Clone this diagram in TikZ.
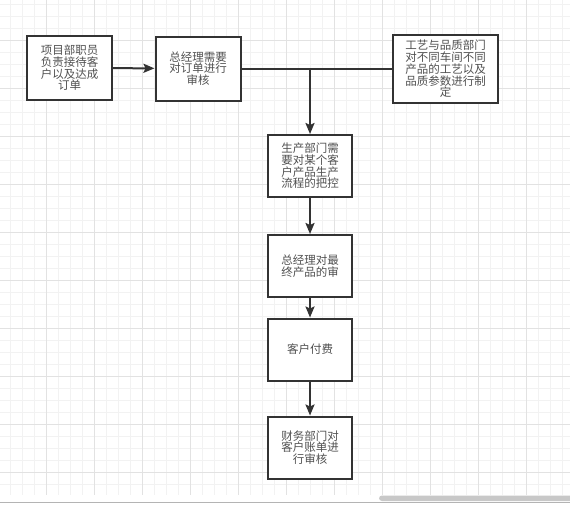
\documentclass[tikz,border=0pt]{standalone}
\usepackage{fontspec}
\setmainfont{Noto Sans CJK SC}
\usepackage{xcolor}
\usetikzlibrary{arrows.meta,positioning}
\definecolor{boxline}{RGB}{51,51,51}
\definecolor{boxtext}{RGB}{80,80,80}
\definecolor{gridminor}{RGB}{242,242,242}
\definecolor{gridmajor}{RGB}{226,226,226}
\definecolor{barfill}{RGB}{200,200,200}
\definecolor{barline}{RGB}{180,180,180}

\begin{document}
\begin{tikzpicture}[x=1pt,y=-1pt,
    procbox/.style={draw=boxline,line width=2pt,fill=white,inner sep=0pt,
      align=center,text=boxtext,font=\fontsize{11.5}{11.7}\selectfont,
      minimum width=85pt,minimum height=64pt},
    flow/.style={draw=boxline,line width=2pt,-{Stealth[length=11pt,width=9pt,inset=2pt]}},
    link/.style={draw=boxline,line width=2pt}
  ]
    \useasboundingbox (0,0) rectangle (570,504);
    \fill[white] (0,0) rectangle (570,504);
    % grid
    \foreach \x in {10.5,22.5,...,570} {
      \draw[gridminor,line width=1pt] (\x,0) -- (\x,494.5);
    }
    \foreach \y in {4,16,...,494} {
      \draw[gridminor,line width=1pt] (0,\y) -- (570,\y);
    }
    \foreach \x in {46.5,94.5,...,570} {
      \draw[gridmajor,line width=1pt] (\x,0) -- (\x,494.5);
    }
    \foreach \y in {40,88,...,494} {
      \draw[gridmajor,line width=1pt] (0,\y) -- (570,\y);
    }
    \fill[barfill,rounded corners=3pt] (379,495.5) rectangle (575,501);
    \draw[barline,line width=1.5pt] (0,502.7) -- (570,502.7);

    % boxes
    \node[procbox] (order) at (69.5,68) {项目部职员\\负责接待客\\户以及达成\\订单};
    \node[procbox] (review) at (198,68.5) {总经理需要\\对订单进行\\审核};
    \node[procbox,minimum width=105pt,minimum height=68pt] (quality) at (445.5,69)
      {工艺与品质部门\\对不同车间不同\\产品的工艺以及\\品质参数进行制\\定};
    \node[procbox,minimum width=84pt,minimum height=62pt] (produce) at (310,166)
      {生产部门需\\要对某个客\\户产品生产\\流程的把控};
    \node[procbox,minimum width=84pt,minimum height=62pt] (final) at (310,266)
      {总经理对最\\终产品的审};
    \node[procbox,minimum width=84pt,minimum height=62pt] (pay) at (310,349.5) {客户付费};
    \node[procbox,minimum width=84pt,minimum height=62pt] (finance) at (310,447.5)
      {财务部门对\\客户账单进\\行审核};

    % connectors
    \coordinate (split) at (310,68.5);
    \draw[flow] (order) -- (review);
    \draw[link] (review.east) -- (quality.west |- review.east);
    \draw[flow] (split) -- (produce);
    \draw[flow] (produce) -- (final);
    \draw[flow] (final) -- (pay);
    \draw[flow] (pay) -- (finance);
\end{tikzpicture}
\end{document}
